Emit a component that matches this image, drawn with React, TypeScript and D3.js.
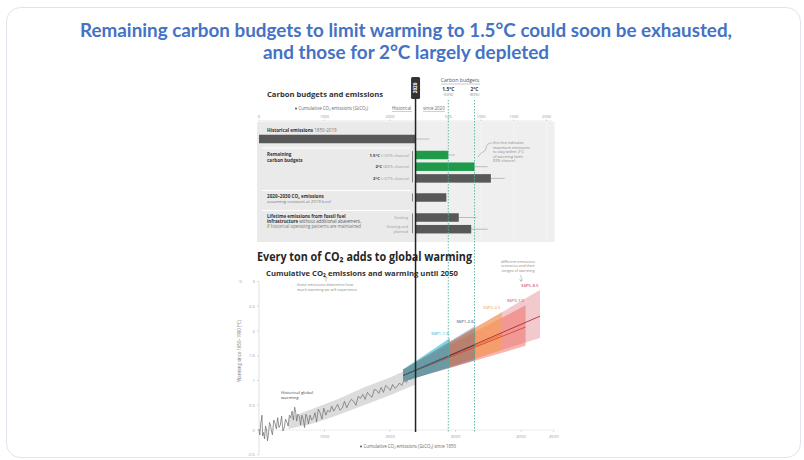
import React from "react";
import * as d3 from "d3";

// ---------------- data ----------------
const titleLines = [
  "Remaining carbon budgets to limit warming to 1.5°C could soon be exhausted,",
  "and those for 2°C largely depleted",
];

const historicalEmissions = 2390; // GtCO2 1850-2019
const historicalUpper = 2600;

const budgetLabels = ["1.5°C", "2°C", "2°C"];
const budgetNotes = ["(>50% chance)", "(83% chance)", "(>67% chance)"];
const budgetValues = [500, 900, 1150]; // since 2020
const budgetUpper = [600, 1100, 1360];
const budgetGreen = [true, true, false];

const decadeEmissions = 470; // 2020-2030
const infraLabels = ["Existing", "Existing and|planned"];
const infraValues = [660, 850];
const infraUpper = [930, 1100];

const budgetLineValues = [500, 900]; // since 2020
const budgetLineLabels = ["1.5°C", "2°C"];
const budgetLineNotes = ["(50%)", "(83%)"];

const topTicksHist = [0, 1000, 2000];
const topTicksSince = [500, 1000, 1500, 2000];

const xTicks = [1000, 2000, 3000, 4000, 4500];
const yTicks = [-0.5, 0, 0.5, 1, 1.5, 2, 2.5, 3];

const histCum = [
  0, 12, 25, 35, 45, 55, 70, 85, 100, 115, 130, 145, 160, 175, 190, 205, 225, 245, 265, 285,
  305, 325, 345, 365, 385, 405, 425, 445, 465, 485, 505, 525, 545, 560, 575, 595, 615, 635,
  655, 675, 695, 715, 735, 755, 780, 805, 830, 855, 880, 905, 930, 960, 990, 1020, 1050,
  1080, 1110, 1140, 1170, 1200, 1235, 1270, 1305, 1340, 1375, 1410, 1445, 1480, 1515, 1550,
  1585, 1620, 1655, 1690, 1725, 1760, 1795, 1830, 1865, 1900, 1935, 1970, 2005, 2040, 2075,
  2110, 2145, 2180, 2215, 2250, 2285, 2320, 2355, 2390,
];
const histTemp = [
  0.02, -0.1, 0.12, 0.2, 0.3, -0.12, -0.05, -0.18, 0.08, 0.0, -0.22, -0.08, 0.15, 0.1, -0.02,
  -0.1, 0.2, 0.14, 0.02, 0.25, 0.05, 0.1, 0.28, -0.02, 0.04, 0.22, 0.16, 0.08, 0.3, 0.25,
  0.38, 0.2, 0.46, 0.36, 0.18, 0.32, 0.28, 0.1, 0.3, 0.22, 0.05, 0.32, 0.26, 0.12, 0.3, 0.2,
  0.24, 0.35, 0.16, 0.42, 0.36, 0.22, 0.44, 0.3, 0.4, 0.36, 0.48, 0.38, 0.45, 0.52, 0.4,
  0.44, 0.58, 0.45, 0.55, 0.62, 0.58, 0.5, 0.68, 0.64, 0.72, 0.62, 0.76, 0.7, 0.66, 0.82,
  0.8, 0.74, 0.86, 0.76, 0.9, 0.86, 0.8, 0.92, 0.84, 0.88, 0.95, 0.9, 1.0, 0.96, 1.05,
  1.02, 1.1, 1.12,
];
const bandCum = [450, 800, 1200, 1600, 2000, 2390];
const bandLow = [0.02, 0.12, 0.3, 0.5, 0.7, 0.92];
const bandHigh = [0.25, 0.42, 0.62, 0.86, 1.06, 1.3];

const sspNames = ["SSP1-1.9", "SSP1-2.6", "SSP2-4.5", "SSP3-7.0", "SSP5-8.5"];
const sspStartCum = 2200;
const sspStartLow = 0.98;
const sspStartHigh = 1.22;
const sspStartMid = 1.1;
const sspEnd = [2916, 3300, 3710, 4070, 4290];
const sspLow = [1.27, 1.41, 1.62, 1.7, 1.86];
const sspHigh = [1.86, 2.1, 2.38, 2.52, 2.83];
const sspMid = [1.5, 1.72, 1.93, 2.08, 2.3];

// ---------------- styles ----------------
const sspFill = ["#2aaed0", "#2b3f70", "#f7a055", "#f05a50", "#d65a62"];
const sspOpacity = [0.55, 0.3, 0.62, 0.45, 0.32];
const sspLine = ["#1a7f9a", "#2b3a66", "#e07020", "#d9382a", "#a0202f"];
const sspLabelColor = ["#1aa7c9", "#2b3d6b", "#f0a030", "#e0304a", "#c0203a"];

const FONT = "'Open Sans', 'DejaVu Sans', sans-serif";

export default function App() {
  const W = 804;
  const H = 460;
  const x = d3.scaleLinear().domain([0, 4500]).range([259, 553.75]);
  const xs = (v: number) => x(historicalEmissions + v); // since 2020
  const y = d3.scaleLinear().domain([-0.5, 3]).range([454.75, 281.5]);
  const x0 = x(historicalEmissions);

  // top panel row layout
  const step = 11.7;
  const rowH = 8.5;
  const histY = 139;
  const budgetY = (i: number) => 155 + i * step;
  const decadeY = 197.5;
  const infraY = (i: number) => 217.5 + i * step;

  const line = d3
    .line<number>()
    .x((_, i) => x(histCum[i]))
    .y((d) => y(d));
  const band = d3
    .area<number>()
    .x((_, i) => x(bandCum[i]))
    .y0((d) => y(d))
    .y1((_, i) => y(bandHigh[i]));

  const sspOrder = [4, 3, 2, 1, 0];

  const bar = (yc: number, v0: number, v1: number, fill: string, up?: number, key?: string) => (
    <g key={key}>
      {up !== undefined && (
        <line x1={x(v1)} x2={x(up)} y1={yc} y2={yc} stroke="#999" strokeWidth={0.6} />
      )}
      <rect x={x(v0)} y={yc - rowH / 2} width={x(v1) - x(v0)} height={rowH} fill={fill} />
    </g>
  );

  const leader = d3.path();
  leader.moveTo(492, 143);
  leader.bezierCurveTo(484, 143, 488, 150, 483, 152);
  leader.bezierCurveTo(480, 153, 480, 155, 478, 157);

  return (
    <div style={{ position: "absolute", left: 0, top: 0 }}>
      <svg width={W} height={H} style={{ display: "block", background: "#fff" }}>
        <rect x={6.5} y={7.5} width={794} height={450} rx={14} fill="#fff" stroke="#dfe4ec" strokeWidth={1} />
        {titleLines.map((t, i) => (
          <text
            key={i}
            x={406}
            y={37 + i * 22}
            textAnchor="middle"
            fontFamily="Lato, 'Open Sans', sans-serif"
            fontWeight={700}
            fontSize={18.5}
            fill="#4472c4"
            textLength={i === 0 ? 652 : 286}
            lengthAdjust="spacingAndGlyphs"
          >
            {t}
          </text>
        ))}

        {/* ---------- top panel ---------- */}
        <g fontFamily={FONT}>
          <text x={267} y={97} fontSize={7.4} fontWeight={700} fill="#333" textLength={116} lengthAdjust="spacingAndGlyphs">
            Carbon budgets and emissions
          </text>
          <circle cx={296} cy={108.5} r={1.1} fill="#666" />
          <text x={298.5} y={110} fontSize={4.4} fill="#666">
            Cumulative CO₂ emissions (GtCO₂)
          </text>
          <text x={392} y={110} fontSize={4.4} fill="#666">Historical</text>
          <line x1={392} x2={412} y1={111.5} y2={111.5} stroke="#888" strokeWidth={0.4} />
          <text x={423} y={110} fontSize={4.4} fill="#666">since 2020</text>
          <line x1={423} x2={445} y1={111.5} y2={111.5} stroke="#888" strokeWidth={0.4} />

          <text x={460} y={82} fontSize={5.2} fill="#555" textAnchor="middle">Carbon budgets</text>
          <line x1={441} x2={480} y1={84} y2={84} stroke="#777" strokeWidth={0.4} />
          {budgetLineValues.map((v, i) => (
            <g key={i}>
              <text x={xs(v)} y={91} fontSize={4.8} fontWeight={700} fill="#333" textAnchor="middle">
                {budgetLineLabels[i]}
              </text>
              <text x={xs(v)} y={96} fontSize={3.8} fill="#888" textAnchor="middle">
                {budgetLineNotes[i]}
              </text>
            </g>
          ))}

          {/* axis */}
          <line x1={x(0)} x2={xs(2000) + 6} y1={121} y2={121} stroke="#ccc" strokeWidth={0.5} />
          {topTicksHist.map((t) => (
            <g key={"h" + t}>
              <line x1={x(t)} x2={x(t)} y1={119.5} y2={121} stroke="#aaa" strokeWidth={0.5} />
              <text x={x(t)} y={118} fontSize={4} fill="#999" textAnchor="middle">{t}</text>
            </g>
          ))}
          {topTicksSince.map((t) => (
            <g key={"s" + t}>
              <line x1={xs(t)} x2={xs(t)} y1={119.5} y2={121} stroke="#aaa" strokeWidth={0.5} />
              <text x={xs(t)} y={118} fontSize={4} fill="#999" textAnchor="middle">{t}</text>
            </g>
          ))}

          {/* panel background */}
          <rect x={257} y={122} width={x0 - 257} height={120} fill="#eaeaea" />
          <rect x={x0} y={122} width={xs(2000) + 8 - x0} height={120} fill="#efefef" />
          {topTicksSince.map((t) => (
            <line key={"g" + t} x1={xs(t)} x2={xs(t)} y1={122} y2={242} stroke="#f8f8f8" strokeWidth={0.6} />
          ))}
          {[148, 190.5, 210.5].map((yy) => (
            <line key={yy} x1={262} x2={411} y1={yy} y2={yy} stroke="#fff" strokeWidth={1} />
          ))}

          {/* labels */}
          <text x={267} y={131.5} fontSize={4.6} fill="#333">
            <tspan fontWeight={700}>Historical emissions</tspan> <tspan fill="#777">1850-2019</tspan>
          </text>
          <text x={267} y={156} fontSize={4.6} fontWeight={700} fill="#333">Remaining</text>
          <text x={267} y={161.5} fontSize={4.6} fontWeight={700} fill="#333">carbon budgets</text>
          {budgetLabels.map((l, i) => (
            <text key={i} x={409} y={budgetY(i) + 1.5} fontSize={4.2} fill="#333" textAnchor="end">
              <tspan fontWeight={700}>{l}</tspan> <tspan fill="#999">{budgetNotes[i]}</tspan>
            </text>
          ))}
          <line x1={412.5} x2={412.5} y1={budgetY(0) - 4} y2={budgetY(2) + 4} stroke="#666" strokeWidth={0.8} />
          <text x={267} y={198} fontSize={4.6} fontWeight={700} fill="#333">
            2020–2030 CO₂ emissions
          </text>
          <text x={267} y={203} fontSize={4.3} fill="#777">assuming constant at 2019 level</text>
          <line x1={412.5} x2={412.5} y1={decadeY - 4} y2={decadeY + 4} stroke="#666" strokeWidth={0.8} />
          <text x={267} y={218} fontSize={4.6} fontWeight={700} fill="#333">Lifetime emissions from fossil fuel</text>
          <text x={267} y={223} fontSize={4.4} fill="#555">
            <tspan fontWeight={700} fill="#333">infrastructure</tspan> without additional abatement,
          </text>
          <text x={267} y={228} fontSize={4.4} fill="#777">if historical operating patterns are maintained</text>
          {infraLabels.map((l, i) =>
            l.split("|").map((s, j, arr) => (
              <text
                key={i + "-" + j}
                x={408}
                y={infraY(i) + 1.3 - (arr.length - 1) * 2.3 + j * 4.6}
                fontSize={3.8}
                fill="#999"
                textAnchor="end"
              >
                {s}
              </text>
            ))
          )}
          <line x1={412.5} x2={412.5} y1={infraY(0) - 4} y2={infraY(1) + 4} stroke="#666" strokeWidth={0.8} />

          {/* bars */}
          {bar(histY, 0, historicalEmissions, "#585858", historicalUpper, "hist")}
          {budgetValues.map((v, i) =>
            bar(
              budgetY(i),
              historicalEmissions,
              historicalEmissions + v,
              budgetGreen[i] ? "#1f9a4a" : "#585858",
              historicalEmissions + budgetUpper[i],
              "b" + i
            )
          )}
          {bar(decadeY, historicalEmissions, historicalEmissions + decadeEmissions, "#585858", undefined, "dec")}
          {infraValues.map((v, i) =>
            bar(infraY(i), historicalEmissions, historicalEmissions + v, "#585858", historicalEmissions + infraUpper[i], "i" + i)
          )}

          {/* annotation */}
          {["this line indicates", "maximum emissions", "to stay within 2°C", "of warming (with", "83% chance)"].map((s, i) => (
            <text key={i} x={493} y={144 + i * 4.5} fontSize={3.8} fill="#888">{s}</text>
          ))}
          <path d={leader.toString()} fill="none" stroke="#888" strokeWidth={0.5} />
        </g>

        {/* ---------- bottom panel ---------- */}
        <g fontFamily={FONT}>
          <text x={257} y={260.5} fontSize={11.5} fontWeight={700} fill="#262626" textLength={215} lengthAdjust="spacingAndGlyphs">
            Every ton of CO₂ adds to global warming
          </text>
          <text x={266} y={275.5} fontSize={7.6} fontWeight={700} fill="#333" textLength={192} lengthAdjust="spacingAndGlyphs">
            Cumulative CO₂ emissions and warming until 2050
          </text>

          {/* axes */}
          <line x1={x(0)} x2={x(0)} y1={y(3)} y2={y(-0.5)} stroke="#ccc" strokeWidth={0.6} />
          {yTicks.map((t) => (
            <g key={t}>
              <line x1={x(0) - 2} x2={x(0)} y1={y(t)} y2={y(t)} stroke="#bbb" strokeWidth={0.5} />
              <text x={x(0) - 4} y={y(t) + 1.5} fontSize={4.2} fill="#999" textAnchor="end">{t}</text>
            </g>
          ))}
          <text x={238} y={y(3) + 1.5} fontSize={4.2} fill="#999">°C</text>
          <text
            transform={`translate(241,${y(1.6)}) rotate(-90)`}
            fontSize={4.4}
            fill="#777"
            textAnchor="middle"
          >
            Warming since 1850–1900 (°C)
          </text>
          <line x1={x(0)} x2={x(4500)} y1={y(0)} y2={y(0)} stroke="#ddd" strokeWidth={0.6} />
          {xTicks.map((t) => (
            <g key={t}>
              <line x1={x(t)} x2={x(t)} y1={y(0)} y2={y(0) + 2} stroke="#bbb" strokeWidth={0.5} />
              <text x={x(t)} y={y(0) + 7.5} fontSize={4.2} fill="#999" textAnchor="middle">{t}</text>
            </g>
          ))}
          <circle cx={361} cy={446.5} r={1.1} fill="#666" />
          <text x={363.5} y={448} fontSize={4.4} fill="#666">
            Cumulative CO₂ emissions (GtCO₂) since 1850
          </text>

          {/* historical */}
          <path d={band(bandLow) || ""} fill="#d6d6d6" opacity={0.85} />
          <path d={line(histTemp) || ""} fill="none" stroke="#6a6a6a" strokeWidth={0.7} />

          {/* scenarios */}
          {sspOrder.map((i) => (
            <path
              key={sspNames[i]}
              d={`M${x(sspStartCum)},${y(sspStartLow)}L${x(sspEnd[i])},${y(sspLow[i])}L${x(sspEnd[i])},${y(sspHigh[i])}L${x(sspStartCum)},${y(sspStartHigh)}Z`}
              fill={sspFill[i]}
              opacity={sspOpacity[i]}
            />
          ))}
          {sspOrder.map((i) => (
            <line
              key={"m" + i}
              x1={x(sspStartCum)}
              y1={y(sspStartMid)}
              x2={x(sspEnd[i])}
              y2={y(sspMid[i])}
              stroke={sspLine[i]}
              strokeWidth={0.8}
            />
          ))}
          {sspNames.map((n, i) => (
            <text key={n} x={x(sspEnd[i]) - 1.5} y={y(sspHigh[i]) - 3} fontSize={4.3} fill={sspLabelColor[i]} textAnchor="end">
              {n}
            </text>
          ))}

          {/* annotations */}
          <text x={297} y={286} fontSize={3.8} fill="#888">these emissions determine how</text>
          <text x={297} y={290.5} fontSize={3.8} fill="#888">much warming we will experience</text>
          <path d="M326,281.5 L326,277 M324.5,278.5 L326,276.5 L327.5,278.5" fill="none" stroke="#888" strokeWidth={0.5} />
          <text x={281} y={394} fontSize={4.3} fill="#444">Historical global</text>
          <text x={281} y={399} fontSize={4.3} fill="#444">warming</text>
          {["different emissions", "scenarios and their", "ranges of warming"].map((s, i) => (
            <text key={s} x={518} y={263 + i * 4.3} fontSize={3.8} fill="#888" textAnchor="middle">{s}</text>
          ))}
          <path d="M521,275 C519,276 523,277 521,279 L521,281 M519.5,279.5 L521,281.5 L522.5,279.5" fill="none" stroke="#888" strokeWidth={0.5} />
        </g>

        {/* vertical reference lines */}
        {budgetLineValues.map((v) => (
          <line key={v} x1={xs(v)} x2={xs(v)} y1={100} y2={432} stroke="#4fb39a" strokeWidth={0.9} strokeDasharray="1.5,1.5" />
        ))}
        <line x1={x0} x2={x0} y1={90} y2={432} stroke="#222" strokeWidth={1.5} />
        <rect x={x0 - 4.5} y={77} width={9} height={22} rx={1.5} fill="#333" />
        <text
          transform={`translate(${x0 + 1.6},${88}) rotate(-90)`}
          fontFamily={FONT}
          fontSize={4.6}
          fontWeight={700}
          fill="#fff"
          textAnchor="middle"
        >
          2020
        </text>
      </svg>
    </div>
  );
}
